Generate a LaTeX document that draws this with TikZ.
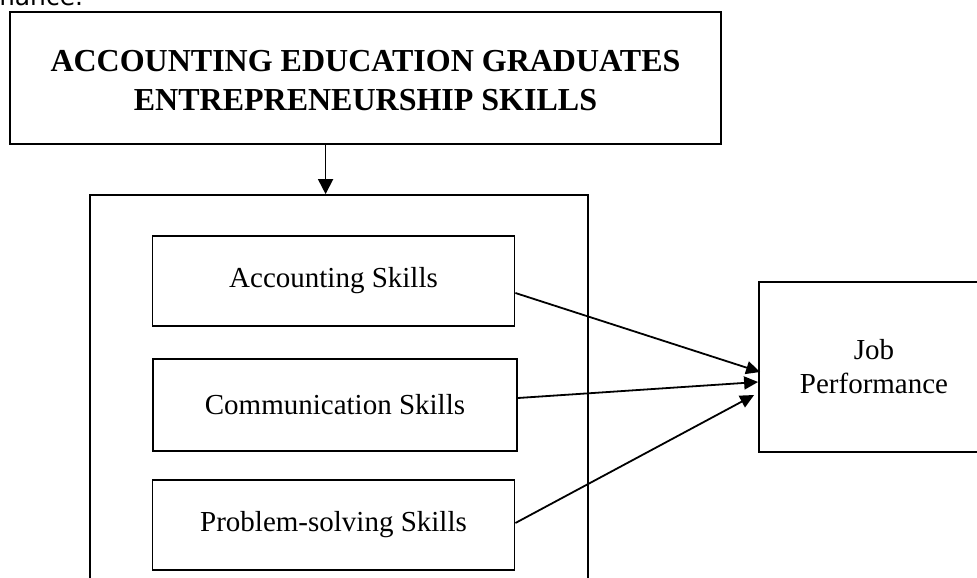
\documentclass[tikz,border=0pt]{standalone}
\usepackage{fontspec}
\setmainfont{Liberation Serif}
\newfontfamily\captionfont{DejaVu Sans}
\usetikzlibrary{shapes,arrows.meta,positioning,calc}

\begin{document}
\begin{tikzpicture}[x=0.5pt, y=-0.5pt, line width=0.9pt,
    box/.style={rectangle, draw, align=center, inner sep=0pt},
    skill/.style={box, minimum width=181pt, minimum height=45pt, font=\fontsize{14.5}{17}\selectfont},
    link/.style={-{Triangle[length=7pt,width=6.5pt]}}]
    \useasboundingbox (0,0) rectangle (977,577);

    % caption running off the top of the page
    \node[anchor=base east, inner sep=0pt, font=\captionfont\fontsize{12.5}{15}\selectfont] (caption) at (84,6) {performance.};

    \node[box, minimum width=355.5pt, minimum height=66pt, text height=36pt, text depth=3pt, font=\bfseries\fontsize{16}{19.5}\selectfont] (title) at (365.5,78) {ACCOUNTING EDUCATION GRADUATES\\ENTREPRENEURSHIP SKILLS};

    % outer frame, cut by the page edge
    \node[box, minimum width=249pt, minimum height=222.5pt] (group) at (339,417.5) {};

    \node[skill] (acc) at (333.5,281) {Accounting Skills};
    \node[skill, minimum width=182pt, minimum height=46pt] (comm) at (335,405) {Communication Skills};
    \node[skill] (prob) at (333.5,525) {Problem-solving Skills};

    \node[box, minimum width=115pt, minimum height=85pt, font=\fontsize{14.5}{17}\selectfont] (job) at (874,367) {Job\\Performance};

    \coordinate (drop) at ($(title.south west)!0.444!(title.south east)$);
    \draw[-{Triangle[length=7.5pt,width=7.5pt]}] (drop) -- (drop |- group.north);

    \draw[link] ($(acc.east)+(0,12)$) -- ($(job.west)+(2,5)$);
    \draw[link] ($(comm.east)+(0,-7)$) -- ($(job.west)+(0,15)$);
    \draw[link] ($(prob.east)+(0,-2)$) -- ($(job.west)+(-4,28)$);
\end{tikzpicture}
\end{document}
